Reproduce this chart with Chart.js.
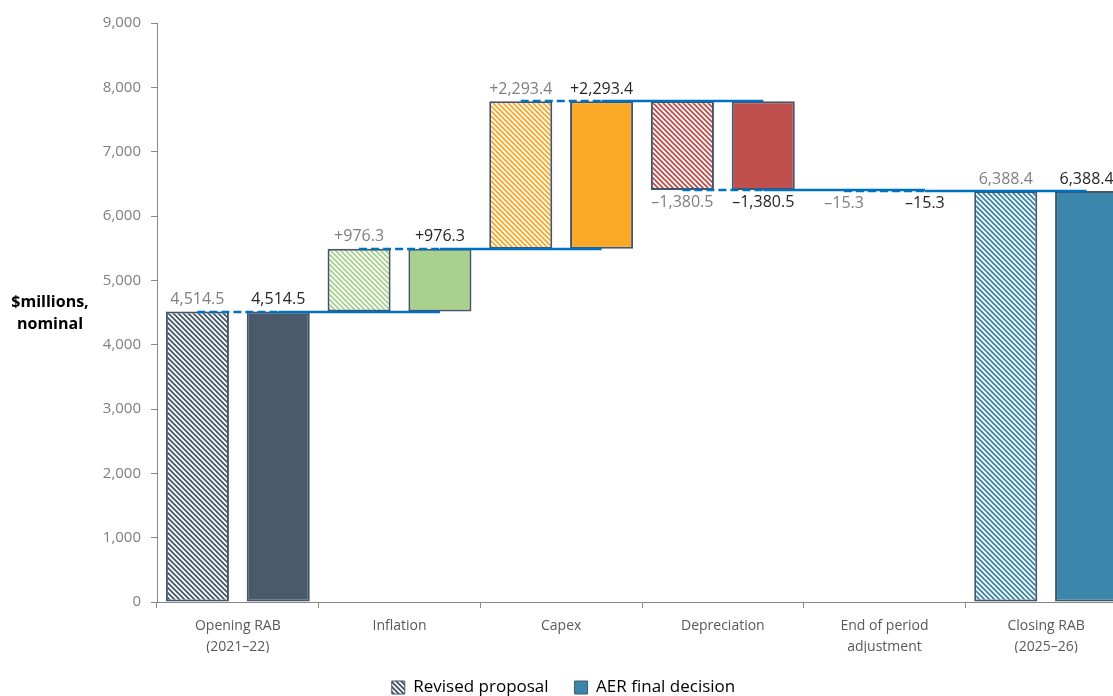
<!DOCTYPE html>
<html>
<head>
<meta charset="utf-8">
<script src="https://cdn.jsdelivr.net/npm/chart.js@4.4.1/dist/chart.umd.min.js"></script>
<style>
  html, body { margin: 0; padding: 0; background: #fff; overflow: hidden; }
  #wrap { position: absolute; left: 0; top: 0; width: 1135px; height: 696px; }
</style>
</head>
<body>
<div id="wrap"><canvas id="chart" width="1135" height="696"></canvas></div>
<script>
const categories = [
  ['Opening RAB', '(2021–22)'],
  'Inflation',
  'Capex',
  'Depreciation',
  ['End of period', 'adjustment'],
  ['Closing RAB', '(2025–26)'],
];
const kinds          = ['total', 'delta', 'delta', 'delta', 'delta', 'total'];
const revisedValues  = [4514.5, 976.3, 2293.4, -1380.5, -15.3, 6388.4];
const aerValues      = [4514.5, 976.3, 2293.4, -1380.5, -15.3, 6388.4];
const barColors      = ['#4A5A6B', '#A9D18E', '#F9A828', '#C0504D', '#8C8C8C', '#3A87AB'];
const yTicks         = [0, 1000, 2000, 3000, 4000, 5000, 6000, 7000, 8000, 9000];

const EDGE = '#44546A';

function toRanges(values) {
  let cum = 0;
  return values.map((v, i) => {
    if (kinds[i] === 'total') { cum = v; return [0, v]; }
    const r = [cum, cum + v];
    cum += v;
    return r;
  });
}

function fmt(v, i) {
  const s = Math.abs(v).toLocaleString('en-US', { minimumFractionDigits: 1, maximumFractionDigits: 1 });
  if (kinds[i] === 'total') return s;
  return (v < 0 ? '–' : '+') + s;
}

function hatch(color) {
  const n = 5;
  const c = document.createElement('canvas');
  c.width = n; c.height = n;
  const g = c.getContext('2d');
  g.fillStyle = '#fff';
  g.fillRect(0, 0, n, n);
  g.strokeStyle = color;
  g.lineWidth = 1.9;
  g.beginPath();
  for (const k of [-n, 0, n]) {
    g.moveTo(-1, k - 1);
    g.lineTo(n + 1, n + k + 1);
  }
  g.stroke();
  return g.createPattern(c, 'repeat');
}

const revisedRanges = toRanges(revisedValues);
const aerRanges     = toRanges(aerValues);

// waterfall connectors + value labels
const waterfallExtras = {
  id: 'waterfallExtras',
  afterDatasetsDraw(chart) {
    const ctx = chart.ctx;
    const y = chart.scales.y;
    const m0 = chart.getDatasetMeta(0).data;
    const m1 = chart.getDatasetMeta(1).data;

    ctx.save();
    ctx.strokeStyle = '#0070C0';
    ctx.lineWidth = 2.5;
    for (let i = 0; i < categories.length - 1; i++) {
      const level = aerRanges[i][1];
      const py = Math.round(y.getPixelForValue(level));
      // dashed across the pair, solid on to the next decision bar
      ctx.setLineDash([8, 4]);
      ctx.beginPath();
      ctx.moveTo(m0[i].x, py);
      ctx.lineTo(m1[i].x, py);
      ctx.stroke();
      ctx.setLineDash([]);
      ctx.beginPath();
      ctx.moveTo(m1[i].x, py);
      ctx.lineTo(m1[i + 1].x, py);
      ctx.stroke();
    }
    ctx.restore();

    ctx.save();
    ctx.font = '16px "Open Sans"';
    ctx.textAlign = 'center';
    [[m0, revisedValues, '#7F7F7F'], [m1, aerValues, '#262626']].forEach(([els, vals, col]) => {
      ctx.fillStyle = col;
      els.forEach((el, i) => {
        const top = Math.min(el.y, el.base);
        const bot = Math.max(el.y, el.base);
        if (vals[i] < 0) {
          ctx.textBaseline = 'top';
          ctx.fillText(fmt(vals[i], i), el.x, bot + 4);
        } else {
          ctx.textBaseline = 'bottom';
          ctx.fillText(fmt(vals[i], i), el.x, top - 4);
        }
      });
    });
    ctx.restore();

    // horizontal y-axis title
    ctx.save();
    ctx.font = 'bold 16px "Open Sans"';
    ctx.fillStyle = '#000';
    ctx.textAlign = 'center';
    ctx.textBaseline = 'middle';
    ctx.fillText('$millions,', 50, 302);
    ctx.fillText('nominal', 50, 324);
    ctx.restore();
  }
};

new Chart(document.getElementById('chart'), {
  type: 'bar',
  data: {
    labels: categories,
    datasets: [
      {
        label: 'Revised proposal',
        data: revisedRanges,
        backgroundColor: barColors.map(hatch),
        borderColor: EDGE,
        borderWidth: 2,
        borderSkipped: false,
      },
      {
        label: 'AER final decision',
        data: aerRanges,
        backgroundColor: barColors,
        borderColor: EDGE,
        borderWidth: 2,
        borderSkipped: false,
      },
    ],
  },
  options: {
    responsive: false,
    animation: false,
    devicePixelRatio: 1,
    categoryPercentage: 1.0,
    barPercentage: 0.78,
    layout: { padding: { top: 23, left: 0, right: 8, bottom: -10 } },
    plugins: {
      tooltip: { enabled: false },
      legend: {
        position: 'bottom',
        labels: {
          font: { family: 'Open Sans', size: 17 },
          color: '#404040',
          boxWidth: 13,
          boxHeight: 13,
          padding: 26,
          generateLabels: () => [
            { text: 'Revised proposal', fillStyle: hatch('#44546A'), strokeStyle: EDGE, lineWidth: 1, datasetIndex: 0 },
            { text: 'AER final decision', fillStyle: '#3A87AB', strokeStyle: EDGE, lineWidth: 1, datasetIndex: 1 },
          ],
        },
      },
    },
    scales: {
      x: {
        grid: { display: true, drawOnChartArea: false, drawTicks: true, tickLength: 6, color: '#868686', offset: true },
        border: { display: true, color: '#868686', width: 1 },
        ticks: { color: '#595959', font: { family: 'Open Sans', size: 14, lineHeight: 1.5 }, padding: 8, maxRotation: 0 },
        afterFit: s => { s.height = 51; },
      },
      y: {
        min: 0,
        max: 9000,
        afterBuildTicks: s => { s.ticks = yTicks.map(v => ({ value: v })); },
        grid: { display: true, drawOnChartArea: false, drawTicks: true, tickLength: 6, color: '#868686' },
        border: { display: true, color: '#868686', width: 1 },
        ticks: {
          color: '#7F7F7F',
          font: { family: 'Open Sans', size: 15 },
          padding: 10,
          callback: v => v.toLocaleString('en-US'),
        },
        afterFit: s => { s.width = 157; },
      },
    },
  },
  plugins: [waterfallExtras],
});
</script>
</body>
</html>
